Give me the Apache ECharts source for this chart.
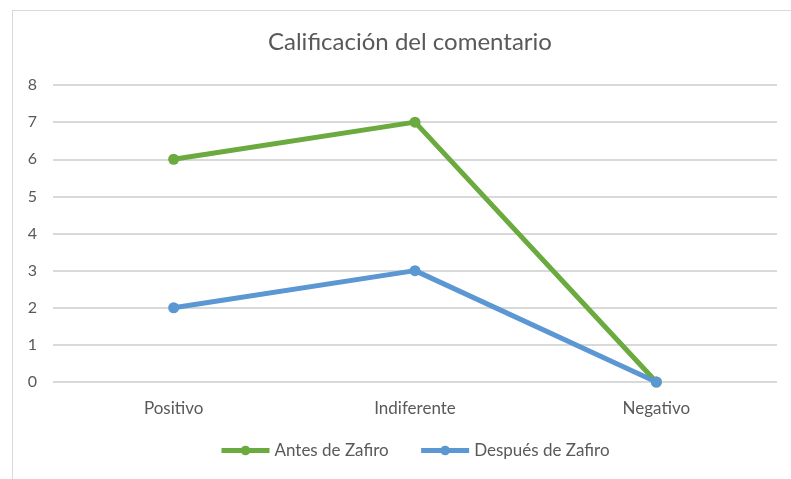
<!DOCTYPE html>
<html lang="es">
<head>
<meta charset="UTF-8">
<title>Calificación del comentario</title>
<script src="https://cdn.jsdelivr.net/npm/echarts@6/dist/echarts.min.js"></script>
<style>
  html, body { margin: 0; padding: 0; background: #fff; }
  #frame { position: absolute; left: 12px; top: 10px; width: 800px; height: 500px; border: 1px solid #d9d9d9; box-sizing: border-box; }
  #chart { position: absolute; left: 0; top: 0; width: 791px; height: 479px; }
</style>
</head>
<body>
<div id="frame"></div>
<div id="chart"></div>
<script>
  var categories = ['Positivo', 'Indiferente', 'Negativo'];
  var antes = [6, 7, 0];
  var despues = [2, 3, 0];
  var yTicks = [0, 1, 2, 3, 4, 5, 6, 7, 8];

  var chart = echarts.init(document.getElementById('chart'));
  var txt = '#595959';
  chart.setOption({
    animation: false,
    textStyle: { fontFamily: 'Lato, sans-serif' },
    title: {
      text: 'Calificación del comentario',
      left: 263, top: 25,
      textStyle: { fontSize: 24, fontWeight: 'normal', color: txt, fontFamily: 'Lato, sans-serif' }
    },
    legend: {
      bottom: 15, left: 214, itemGap: 30, itemWidth: 48, itemHeight: 12,
      textStyle: { fontSize: 17, color: txt },
      lineStyle: { width: 5 },
      data: ['Antes de Zafiro', 'Después de Zafiro']
    },
    grid: { left: 53, right: 14, top: 85, bottom: 97 },
    xAxis: {
      type: 'category',
      data: categories,
      axisLine: { show: false },
      axisTick: { show: false },
      axisLabel: { fontSize: 17, color: txt, margin: 18 }
    },
    yAxis: {
      type: 'value',
      min: yTicks[0], max: yTicks[yTicks.length - 1], interval: 1,
      axisLabel: { fontSize: 16, color: txt, margin: 16 },
      splitLine: { lineStyle: { color: '#d9d9d9', width: 2 } }
    },
    series: [
      {
        name: 'Antes de Zafiro', type: 'line', data: antes,
        symbol: 'circle', symbolSize: 11,
        lineStyle: { width: 5, color: '#6aaa3e' },
        itemStyle: { color: '#6aaa3e' }
      },
      {
        name: 'Después de Zafiro', type: 'line', data: despues,
        symbol: 'circle', symbolSize: 11,
        lineStyle: { width: 5, color: '#5b97d2' },
        itemStyle: { color: '#5b97d2' }
      }
    ]
  });
</script>
</body>
</html>
